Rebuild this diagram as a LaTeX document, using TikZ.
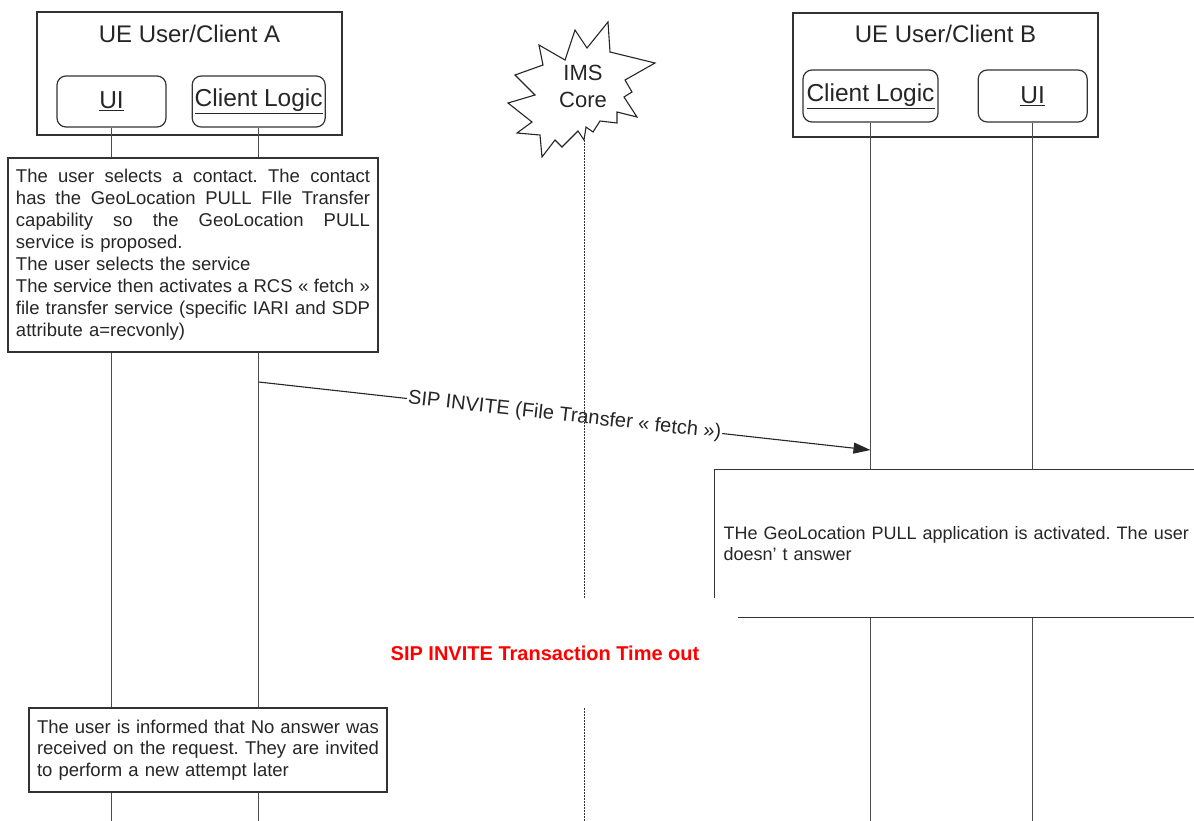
\documentclass[tikz,border=0pt]{standalone}
\usepackage{fontspec}
\setmainfont{Liberation Sans}
\usetikzlibrary{positioning, arrows.meta}

\frenchspacing
\newcommand{\spreadline}[2]{\leavevmode\hbox to #1{\spaceskip=.278em plus 3em minus .05em\relax #2}}

\begin{document}
\begin{tikzpicture}[x=1pt, y=-1pt,
    unit/.style={draw=black!80, line width=1.2pt, fill=white, minimum width=305pt, minimum height=123pt, inner sep=0pt},
    unittitle/.style={font=\fontsize{24}{28}\selectfont, text=black!85},
    part/.style={draw=black!80, line width=1.2pt, rounded corners=9pt, fill=white, minimum height=51pt, inner sep=0pt, font=\fontsize{24.5}{28}\selectfont, text=black!85},
    note/.style={draw=black!80, line width=1.2pt, fill=white, align=left, inner xsep=8pt, inner ysep=0pt, font=\fontsize{18.5}{21.5}\selectfont, text=black!85},
    life/.style={draw=black!70, line width=1.3pt},
    imsline/.style={draw=black!80, line width=0.9pt, dash pattern=on 2pt off 1pt},
    burst/.style={draw=black!85, line width=1.1pt, fill=white, line join=miter},
    msg/.style={-{Triangle[length=17pt, width=11pt]}, line width=1.1pt, draw=black!85}
]
\useasboundingbox (0,0) rectangle (1194,820);
\coordinate (bot) at (0,822);

% Client A
\node[unit] (boxA) at (189.5,73.5) {};
\node[unittitle] (titleA) at (189.5,34) {UE User/Client A};
\node[part, minimum width=109pt] (uiA) at (111.5,101.5) {\underline{UI}};
\node[part, minimum width=133pt, right=25pt of uiA] (clA) {\underline{Client Logic}};

% Client B
\node[unit, minimum height=124pt] (boxB) at (945.5,75) {};
\node[unittitle] (titleB) at (945.5,34) {UE User/Client B};
\node[part, minimum width=135pt, minimum height=52pt] (clB) at (870.5,96) {\underline{Client Logic}};
\node[part, minimum width=109pt, minimum height=52pt, right=39pt of clB] (uiB) {\underline{UI}};

% IMS core
\draw[burst] (575,30) -- (587,48) -- (608,22) -- (610,52) -- (655,63) -- (625,80)
  -- (632,92) -- (624,97) -- (637,117) -- (617,112) -- (617,123) -- (600,121)
  -- (593,132) -- (586,127) -- (584,140) -- (578,131) -- (572,137) -- (562,147)
  -- (555,140) -- (542,157) -- (540,135) -- (517,133) -- (532,122) -- (508,103)
  -- (535,95) -- (515,75) -- (543,65) -- (539,45) -- (565,60) -- cycle;
\node[align=center, font=\fontsize{22}{27}\selectfont, text=black!85] (ims) at (583,86) {IMS\\Core};
\coordinate (imsfoot) at (584,140);

% Lifelines
\draw[life] (uiA.south) -- (uiA.south |- bot);
\draw[life] (clA.south) -- (clA.south |- bot);
\draw[life] (clB.south) -- (clB.south |- bot);
\draw[life] (uiB.south) -- (uiB.south |- bot);

% Notes
\node[note, text width=354pt, minimum height=194pt, font=\fontsize{18.5}{22}\selectfont] (selectA) at (193,255) {%
  \spreadline{354pt}{The user selects a contact. The contact}\\
  \spreadline{354pt}{has the GeoLocation PULL FIle Transfer}\\
  \spreadline{354pt}{capability so the GeoLocation PULL}\\
  service is proposed.\\
  The user selects the service\\
  \spreadline{354pt}{The service then activates a RCS « fetch »}\\
  \spreadline{354pt}{file transfer service (specific IARI and SDP}\\
  attribute a=recvonly)};
\node[note, anchor=north west, text width=520pt, inner xsep=9pt, minimum height=148pt, font=\fontsize{18}{21.5}\selectfont] (answerB) at (714,469) {%
  THe GeoLocation PULL application is activated. The user\\
  doesn’ t answer};
\node[fill=white, minimum width=386pt, minimum height=110pt, text=red, font=\bfseries\fontsize{20}{24}\selectfont] (tout) at (545,653) {SIP INVITE Transaction Time out};
\node[note, text width=342pt, minimum height=84pt] (informA) at (208,750) {%
  \spreadline{342pt}{The user is informed that No answer was}\\
  \spreadline{342pt}{received on the request. They are invited}\\
  to perform a new attempt later};

% Messages
\coordinate (sendY) at (0,382);
\coordinate (recvY) at (0,450);
\draw[msg] (clA.south |- sendY) -- node[sloped, fill=white, inner sep=1pt, text=black!85, font=\fontsize{20}{24}\selectfont] {SIP INVITE (File Transfer « fetch »)} (clB.south |- recvY);

\draw[imsline] (imsfoot) -- (imsfoot |- tout.north);
\draw[imsline] (imsfoot |- tout.south) -- (imsfoot |- bot);

\end{tikzpicture}
\end{document}
